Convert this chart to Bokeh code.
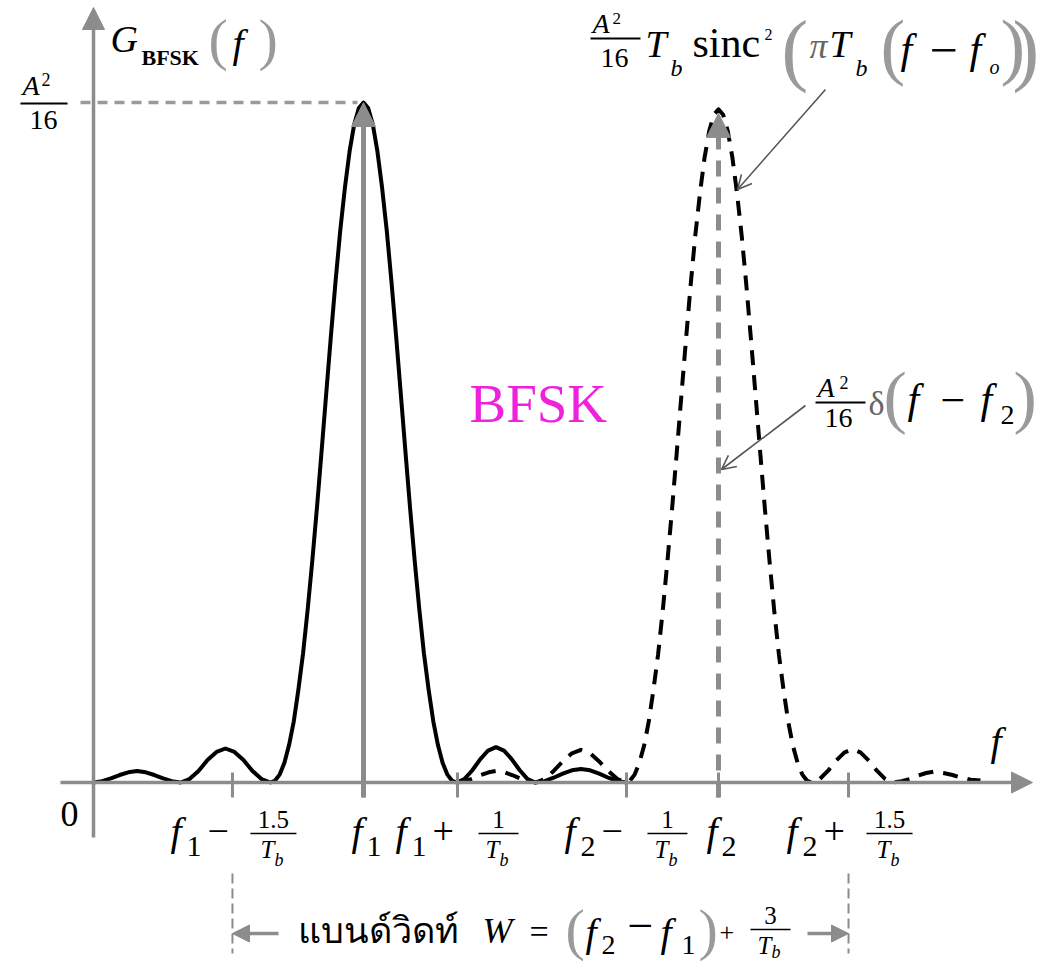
from bokeh.plotting import figure
from bokeh.models import Range1d, Label, Arrow, NormalHead, OpenHead
from bokeh.embed import file_html
from bokeh.resources import INLINE

# ---------------- data ----------------
# x: frequency in units of 1/Tb measured from the vertical axis
# y: power spectral density in units of A^2/16
tick_x = [1.527, 2.967, 4.000, 5.857, 6.868, 8.297]
tick_sub = ["1", "1", "1", "2", "2", "2"]
tick_op = ["−", None, "+", "−", None, "+"]
tick_num = ["1.5", None, "1", "1", None, "1.5"]

f1 = 2.967
f2 = 6.868
peak_level = 1.0
delta_level = 0.984

# solid curve: spectrum lobe around f1
solid_x = [0.000, 0.096, 0.191, 0.287, 0.382, 0.478, 0.574, 0.669, 0.765, 0.860,
           0.956, 1.055, 1.154, 1.253, 1.352, 1.450, 1.549, 1.648, 1.747, 1.846,
           1.945, 1.996, 2.047, 2.098, 2.149, 2.201, 2.252, 2.303, 2.354, 2.405,
           2.456, 2.507, 2.558, 2.609, 2.660, 2.711, 2.763, 2.814, 2.865, 2.916,
           2.967,
           3.018, 3.069, 3.120, 3.171, 3.223, 3.274, 3.325, 3.376, 3.427, 3.478,
           3.529, 3.580, 3.631, 3.682, 3.734, 3.785, 3.836, 3.887, 3.938, 3.989,
           4.076, 4.163, 4.249, 4.336, 4.423, 4.510, 4.597, 4.684, 4.770, 4.857,
           4.957, 5.057, 5.157, 5.257, 5.357, 5.457, 5.557, 5.657, 5.757, 5.857]
solid_y = [0.000, 0.002, 0.006, 0.011, 0.015, 0.017, 0.015, 0.011, 0.006, 0.002,
           0.000, 0.005, 0.017, 0.033, 0.045, 0.050, 0.045, 0.033, 0.017, 0.005,
           0.000, 0.003, 0.012, 0.029, 0.055, 0.090, 0.137, 0.190, 0.255, 0.327,
           0.405, 0.488, 0.573, 0.657, 0.737, 0.811, 0.875, 0.928, 0.968, 0.992,
           1.000,
           0.992, 0.968, 0.928, 0.875, 0.811, 0.737, 0.657, 0.573, 0.488, 0.405,
           0.327, 0.255, 0.190, 0.137, 0.090, 0.055, 0.029, 0.012, 0.003, 0.000,
           0.005, 0.018, 0.034, 0.047, 0.052, 0.047, 0.034, 0.018, 0.005, 0.000,
           0.002, 0.007, 0.013, 0.018, 0.020, 0.018, 0.013, 0.007, 0.002, 0.000]

# dashed curve: spectrum lobe around f2
dash_x = [4.000, 4.086, 4.171, 4.257, 4.343, 4.429, 4.514, 4.600, 4.686, 4.771,
          4.857, 4.957, 5.057, 5.157, 5.257, 5.357, 5.457, 5.557, 5.657, 5.757,
          5.857, 5.897, 5.948, 5.999, 6.050, 6.101, 6.153, 6.204, 6.255, 6.306,
          6.357, 6.408, 6.459, 6.510, 6.561, 6.612, 6.664, 6.715, 6.766, 6.817,
          6.868,
          6.919, 6.970, 7.021, 7.072, 7.124, 7.175, 7.226, 7.277, 7.328, 7.379,
          7.430, 7.481, 7.532, 7.583, 7.635, 7.686, 7.737, 7.788, 7.839, 7.890,
          7.980, 8.070, 8.160, 8.250, 8.341, 8.431, 8.521, 8.611, 8.701, 8.791,
          8.880, 8.970, 9.060, 9.150, 9.240, 9.340, 9.440, 9.540, 9.640, 9.747]
dash_y = [0.000, 0.002, 0.006, 0.011, 0.015, 0.017, 0.015, 0.011, 0.006, 0.002,
          0.000, 0.005, 0.017, 0.031, 0.043, 0.048, 0.043, 0.031, 0.017, 0.005,
          0.000, 0.003, 0.012, 0.029, 0.054, 0.089, 0.136, 0.188, 0.252, 0.324,
          0.401, 0.483, 0.567, 0.650, 0.730, 0.803, 0.866, 0.919, 0.958, 0.982,
          0.990,
          0.982, 0.958, 0.919, 0.866, 0.803, 0.730, 0.650, 0.567, 0.483, 0.401,
          0.324, 0.252, 0.188, 0.136, 0.089, 0.054, 0.029, 0.012, 0.003, 0.000,
          0.005, 0.017, 0.032, 0.044, 0.049, 0.044, 0.032, 0.017, 0.005, 0.000,
          0.002, 0.005, 0.010, 0.014, 0.016, 0.014, 0.011, 0.007, 0.004, 0.003]

# ---------------- layout helpers (reference pixel -> data) ----------------
X0, SX = 93.0, 91.0      # pixel of x = 0, pixels per 1/Tb
Y0, SY = 782.0, 680.0    # pixel of y = 0, pixels per A^2/16


def X(px):
    return (px - X0) / SX


def Y(py):
    return (Y0 - py) / SY


W, H = 1042, 965
SERIF = "Liberation Serif"
GRAY = "#8c8c8c"
PAREN = "#9a9a9a"
BASE_SHIFT = 0.36   # renderer places alphabetic baseline this many ems lower

p = figure(width=W, height=H,
           x_range=Range1d(X(0), X(W)), y_range=Range1d(Y(H), Y(0)),
           output_backend="svg", toolbar_location=None,
           x_axis_type=None, y_axis_type=None, min_border=0)
p.outline_line_color = None
p.background_fill_color = "white"
p.border_fill_color = "white"


def T(px, py, s, size, italic=False, bold=False, color="black", align="left", font=SERIF):
    style = "normal"
    if italic and bold:
        style = "bold italic"
    elif italic:
        style = "italic"
    elif bold:
        style = "bold"
    p.add_layout(Label(x=X(px), y=Y(py - BASE_SHIFT * size), text=s, text_font=font,
                       text_font_size=f"{size}px", text_font_style=style,
                       text_color=color, text_align=align,
                       text_baseline="alphabetic"))


def bar(px0, px1, py, w=2.0, color="black"):
    p.segment(x0=[X(px0)], y0=[Y(py)], x1=[X(px1)], y1=[Y(py)],
              line_color=color, line_width=w)


def frac_Tb(cx, ybar, num, size=25, width=40, sub_drop=33):
    T(cx, ybar - 5, num, size, align="center")
    bar(cx - width / 2, cx + width / 2, ybar, 1.6)
    T(cx - 13, ybar + 25, "T", size, italic=True)
    T(cx + 1, ybar + sub_drop, "b", int(size * 0.74), italic=True)


# ---------------- curves ----------------
p.line(solid_x, solid_y, line_color="black", line_width=4, line_join="round")
p.line(dash_x, dash_y, line_color="black", line_width=4, line_dash="15 10",
       line_join="round")

# peak reference line A^2/16
p.line([X(80), f1 - 0.066], [peak_level, peak_level], line_color="#9a9a9a",
       line_width=3.5, line_dash="10 7")

# axes with arrows
p.add_layout(Arrow(x_start=X(60), y_start=0, x_end=X(1032), y_end=0,
                   line_color=GRAY, line_width=3.5,
                   end=NormalHead(size=21, fill_color=GRAY, line_color=GRAY)))
p.add_layout(Arrow(x_start=0, y_start=Y(837), x_end=0, y_end=Y(7),
                   line_color=GRAY, line_width=3.5,
                   end=NormalHead(size=22, fill_color=GRAY, line_color=GRAY)))

# tick marks
p.segment(x0=tick_x, y0=[Y(772)] * len(tick_x), x1=tick_x, y1=[Y(797)] * len(tick_x),
          line_color=GRAY, line_width=3)

# impulse at f1 (solid) and f2 (dashed)
p.add_layout(Arrow(x_start=f1, y_start=Y(797), x_end=f1, y_end=peak_level,
                   line_color=GRAY, line_width=5,
                   end=NormalHead(size=24, fill_color=GRAY, line_color=GRAY)))
p.add_layout(Arrow(x_start=f2, y_start=Y(797), x_end=f2, y_end=delta_level,
                   line_color=GRAY, line_width=5, line_dash="16 11",
                   end=NormalHead(size=24, fill_color=GRAY, line_color=GRAY)))

# bandwidth markers
bw = [tick_x[0], tick_x[5]]
p.segment(x0=bw, y0=[Y(873)] * 2, x1=bw, y1=[Y(953)] * 2,
          line_color=GRAY, line_width=2, line_dash="10 5")
p.add_layout(Arrow(x_start=X(278), y_start=Y(933), x_end=bw[0], y_end=Y(933),
                   line_color=GRAY, line_width=3.5,
                   end=NormalHead(size=17, fill_color=GRAY, line_color=GRAY)))
p.add_layout(Arrow(x_start=X(807), y_start=Y(933), x_end=bw[1], y_end=Y(933),
                   line_color=GRAY, line_width=3.5,
                   end=NormalHead(size=17, fill_color=GRAY, line_color=GRAY)))

# pointer arrows
p.add_layout(Arrow(x_start=X(825), y_start=Y(89), x_end=X(737), y_end=Y(189),
                   line_color="#555555", line_width=1.6,
                   end=OpenHead(size=14, line_color="#555555", line_width=1.6)))
p.add_layout(Arrow(x_start=X(805), y_start=Y(405), x_end=X(721), y_end=Y(469),
                   line_color="#555555", line_width=1.6,
                   end=OpenHead(size=14, line_color="#555555", line_width=1.6)))

# ---------------- tick labels ----------------
for tx, sub, op, num in zip(tick_x, tick_sub, tick_op, tick_num):
    c = X0 + tx * SX
    if op is None:
        T(c - 12, 845, "f", 40, italic=True)
        T(c + 3, 857, sub, 30)
    else:
        T(c - 62, 845, "f", 40, italic=True)
        T(c - 46, 857, sub, 30)
        T(c - 25, 845, op, 38)
        frac_Tb(c + 41, 833, num, 25, 46 if len(num) > 1 else 40)

# origin
T(60, 826, "0", 36)

# ---------------- y axis title ----------------
T(110, 52, "G", 38, italic=True)
T(141, 65, "BFSK", 22, bold=True)
T(208, 60, "(", 58, color=PAREN)
T(232, 57, "f", 40, italic=True)
T(258, 60, ")", 58, color=PAREN)

# A^2/16 on the axis
T(22, 95, "A", 28, italic=True)
T(41, 85, "2", 18)
bar(20, 67, 103, 2)
T(43, 130, "16", 28, align="center")

# ---------------- sinc annotation ----------------
T(592, 33, "A", 28, italic=True)
T(612, 24, "2", 17)
bar(590, 640, 38, 2)
T(614, 68, "16", 28, align="center")
T(645, 57, "T", 38, italic=True)
T(670, 76, "b", 24, italic=True)
T(692, 58, "sinc", 42)
T(764, 40, "2", 16)
T(781, 77, "(", 80, color=PAREN)
T(809, 58, "π", 36, italic=True, color="#666666")
T(829, 57, "T", 38, italic=True)
T(855, 76, "b", 24, italic=True)
T(880, 72, "(", 74, color=PAREN)
T(900, 64, "f", 42, italic=True)
T(929, 68, "−", 50)
T(969, 64, "f", 42, italic=True)
T(989, 74, "o", 20, italic=True)
T(1000, 72, ")", 74, color=PAREN)
T(1012, 77, ")", 80, color=PAREN)

# BFSK label
T(469, 423, "BFSK", 55, color="#EE22DD")

# ---------------- delta annotation ----------------
T(817, 397, "A", 28, italic=True)
T(839, 388, "2", 18)
bar(815, 865, 402, 2)
T(838, 428, "16", 28, align="center")
T(868, 415, "δ", 34, color="#666666")
T(883, 421, "(", 70, color=PAREN)
T(907, 414, "f", 42, italic=True)
T(940, 416, "−", 44)
T(980, 414, "f", 42, italic=True)
T(1000, 425, "2", 28)
T(1013, 421, ")", 70, color=PAREN)

# x axis label
T(990, 755, "f", 40, italic=True)

# ---------------- bandwidth formula ----------------
T(297, 943, "แบนด์วิดท์", 36)
T(482, 943, "W", 36, italic=True)
T(529, 943, "=", 34)
T(565, 950, "(", 58, color=PAREN)
T(585, 946, "f", 40, italic=True)
T(601, 955, "2", 28)
T(627, 942, "−", 46)
T(660, 946, "f", 40, italic=True)
T(681, 955, "1", 28)
T(698, 950, ")", 58, color=PAREN)
T(719, 941, "+", 26)
frac_Tb(770, 929, "3", 25, 40, sub_drop=29)

open("out.html", "w").write(file_html(p, INLINE))
